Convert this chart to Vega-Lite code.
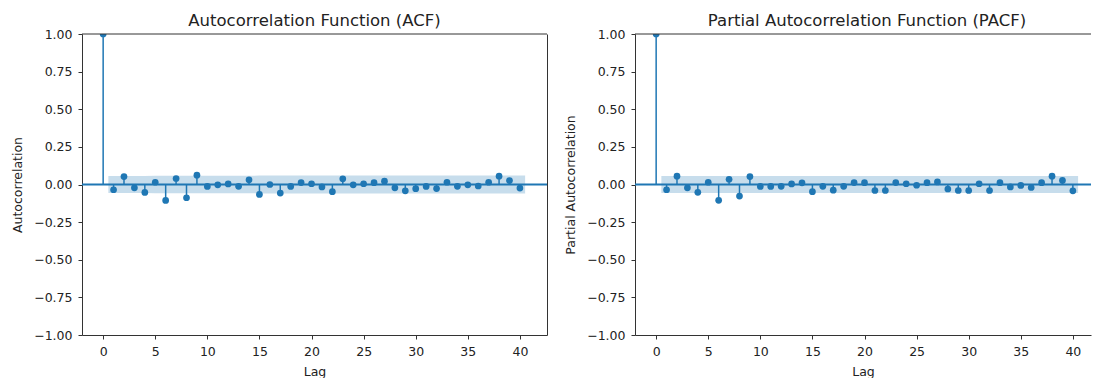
{
  "$schema": "https://vega.github.io/schema/vega-lite/v6.json",
  "padding": {"left": 11, "top": 12, "right": 0, "bottom": 0},
  "bounds": "flush",
  "spacing": 88,
  "datasets": {
    "acf": [
      {"lag": 0, "value": 1.0}, {"lag": 1, "value": -0.035}, {"lag": 2, "value": 0.053}, {"lag": 3, "value": -0.022},
      {"lag": 4, "value": -0.053}, {"lag": 5, "value": 0.015}, {"lag": 6, "value": -0.106}, {"lag": 7, "value": 0.040},
      {"lag": 8, "value": -0.088}, {"lag": 9, "value": 0.062}, {"lag": 10, "value": -0.013}, {"lag": 11, "value": -0.002},
      {"lag": 12, "value": 0.004}, {"lag": 13, "value": -0.012}, {"lag": 14, "value": 0.031}, {"lag": 15, "value": -0.066},
      {"lag": 16, "value": 0.000}, {"lag": 17, "value": -0.057}, {"lag": 18, "value": -0.013}, {"lag": 19, "value": 0.013},
      {"lag": 20, "value": 0.005}, {"lag": 21, "value": -0.016}, {"lag": 22, "value": -0.048}, {"lag": 23, "value": 0.038},
      {"lag": 24, "value": -0.002}, {"lag": 25, "value": 0.005}, {"lag": 26, "value": 0.012}, {"lag": 27, "value": 0.022},
      {"lag": 28, "value": -0.022}, {"lag": 29, "value": -0.042}, {"lag": 30, "value": -0.028}, {"lag": 31, "value": -0.013},
      {"lag": 32, "value": -0.027}, {"lag": 33, "value": 0.015}, {"lag": 34, "value": -0.012}, {"lag": 35, "value": -0.002},
      {"lag": 36, "value": -0.010}, {"lag": 37, "value": 0.015}, {"lag": 38, "value": 0.055}, {"lag": 39, "value": 0.026},
      {"lag": 40, "value": -0.024}
    ],
    "acfband": [
      {"lag": 0.5, "lo": -0.057, "hi": 0.057}, {"lag": 2, "lo": -0.0571, "hi": 0.0571}, {"lag": 3, "lo": -0.0573, "hi": 0.0573},
      {"lag": 4, "lo": -0.0573, "hi": 0.0573}, {"lag": 5, "lo": -0.0575, "hi": 0.0575}, {"lag": 6, "lo": -0.0575, "hi": 0.0575},
      {"lag": 7, "lo": -0.0581, "hi": 0.0581}, {"lag": 8, "lo": -0.0582, "hi": 0.0582}, {"lag": 9, "lo": -0.0586, "hi": 0.0586},
      {"lag": 10, "lo": -0.0588, "hi": 0.0588}, {"lag": 11, "lo": -0.0588, "hi": 0.0588}, {"lag": 12, "lo": -0.0588, "hi": 0.0588},
      {"lag": 13, "lo": -0.0588, "hi": 0.0588}, {"lag": 14, "lo": -0.0589, "hi": 0.0589}, {"lag": 15, "lo": -0.059, "hi": 0.059},
      {"lag": 16, "lo": -0.0592, "hi": 0.0592}, {"lag": 17, "lo": -0.0592, "hi": 0.0592}, {"lag": 18, "lo": -0.0594, "hi": 0.0594},
      {"lag": 19, "lo": -0.0594, "hi": 0.0594}, {"lag": 20, "lo": -0.0594, "hi": 0.0594}, {"lag": 21, "lo": -0.0594, "hi": 0.0594},
      {"lag": 22, "lo": -0.0595, "hi": 0.0595}, {"lag": 23, "lo": -0.0596, "hi": 0.0596}, {"lag": 24, "lo": -0.0597, "hi": 0.0597},
      {"lag": 25, "lo": -0.0597, "hi": 0.0597}, {"lag": 26, "lo": -0.0597, "hi": 0.0597}, {"lag": 27, "lo": -0.0597, "hi": 0.0597},
      {"lag": 28, "lo": -0.0598, "hi": 0.0598}, {"lag": 29, "lo": -0.0598, "hi": 0.0598}, {"lag": 30, "lo": -0.0599, "hi": 0.0599},
      {"lag": 31, "lo": -0.0599, "hi": 0.0599}, {"lag": 32, "lo": -0.0599, "hi": 0.0599}, {"lag": 33, "lo": -0.0599, "hi": 0.0599},
      {"lag": 34, "lo": -0.06, "hi": 0.06}, {"lag": 35, "lo": -0.06, "hi": 0.06}, {"lag": 36, "lo": -0.06, "hi": 0.06},
      {"lag": 37, "lo": -0.06, "hi": 0.06}, {"lag": 38, "lo": -0.06, "hi": 0.06}, {"lag": 39, "lo": -0.0601, "hi": 0.0601},
      {"lag": 40.5, "lo": -0.0601, "hi": 0.0601}
    ],
    "pacf": [
      {"lag": 0, "value": 1.0}, {"lag": 1, "value": -0.035}, {"lag": 2, "value": 0.055}, {"lag": 3, "value": -0.022},
      {"lag": 4, "value": -0.052}, {"lag": 5, "value": 0.015}, {"lag": 6, "value": -0.105}, {"lag": 7, "value": 0.035},
      {"lag": 8, "value": -0.077}, {"lag": 9, "value": 0.053}, {"lag": 10, "value": -0.013}, {"lag": 11, "value": -0.013},
      {"lag": 12, "value": -0.012}, {"lag": 13, "value": 0.004}, {"lag": 14, "value": 0.011}, {"lag": 15, "value": -0.048},
      {"lag": 16, "value": -0.012}, {"lag": 17, "value": -0.038}, {"lag": 18, "value": -0.012}, {"lag": 19, "value": 0.013},
      {"lag": 20, "value": 0.012}, {"lag": 21, "value": -0.040}, {"lag": 22, "value": -0.040}, {"lag": 23, "value": 0.013},
      {"lag": 24, "value": 0.005}, {"lag": 25, "value": -0.005}, {"lag": 26, "value": 0.012}, {"lag": 27, "value": 0.017},
      {"lag": 28, "value": -0.030}, {"lag": 29, "value": -0.040}, {"lag": 30, "value": -0.040}, {"lag": 31, "value": 0.005},
      {"lag": 32, "value": -0.040}, {"lag": 33, "value": 0.012}, {"lag": 34, "value": -0.016}, {"lag": 35, "value": -0.006},
      {"lag": 36, "value": -0.020}, {"lag": 37, "value": 0.012}, {"lag": 38, "value": 0.055}, {"lag": 39, "value": 0.027},
      {"lag": 40, "value": -0.042}
    ],
    "pacfband": [
      {"lag": 0.5, "lo": -0.057, "hi": 0.057}, {"lag": 40.5, "lo": -0.057, "hi": 0.057}
    ],
    "zero": [{"v": 0}],
    "frame": [{"v": 1}]
  },
  "hconcat": [
    {
      "width": 465,
      "height": 301,
      "title": {"text": "Autocorrelation Function (ACF)", "offset": -17, "baseline": "bottom", "frame": "group", "anchor": "middle"},
      "resolve": {"axis": {"x": "independent", "y": "independent"}},
      "layer": [
        {
          "data": {"name": "acf"},
          "mark": {"type": "rule", "color": "#1f77b4", "strokeWidth": 1.5},
          "encoding": {
            "x": {"field": "lag", "type": "quantitative", "scale": {"domain": [-2.03, 42.6], "nice": false, "zero": false},
                  "axis": {"orient": "bottom", "values": [0, 5, 10, 15, 20, 25, 30, 35, 40], "title": "Lag", "titlePadding": 8}},
            "y": {"field": "value", "type": "quantitative", "scale": {"domain": [-1, 1], "nice": false},
                  "axis": {"orient": "left", "values": [-1, -0.75, -0.5, -0.25, 0, 0.25, 0.5, 0.75, 1], "format": ".2f", "title": "Autocorrelation", "titlePadding": 9}},
            "y2": {"datum": 0}
          }
        },
        {
          "data": {"name": "acf"},
          "mark": {"type": "circle", "color": "#1f77b4", "opacity": 1, "size": 45, "clip": true},
          "encoding": {
            "x": {"field": "lag", "type": "quantitative", "axis": null},
            "y": {"field": "value", "type": "quantitative", "axis": {"orient": "right", "labels": false, "ticks": false, "title": null}}
          }
        },
        {
          "data": {"name": "frame"},
          "mark": {"type": "rule", "color": "#333", "strokeWidth": 1},
          "encoding": {"y": {"field": "v", "type": "quantitative", "axis": null}}
        },
        {
          "data": {"name": "zero"},
          "mark": {"type": "rule", "color": "#1f77b4", "strokeWidth": 1.8},
          "encoding": {"y": {"field": "v", "type": "quantitative", "axis": null}}
        },
        {
          "data": {"name": "acfband"},
          "mark": {"type": "area", "color": "#1f77b4", "opacity": 0.25},
          "encoding": {
            "x": {"field": "lag", "type": "quantitative", "axis": null},
            "y": {"field": "lo", "type": "quantitative", "axis": null},
            "y2": {"field": "hi"}
          }
        }
      ]
    },
    {
      "width": 456,
      "height": 301,
      "title": {"text": "Partial Autocorrelation Function (PACF)", "offset": -17, "baseline": "bottom", "frame": "group", "anchor": "middle", "dx": 4},
      "resolve": {"axis": {"x": "independent", "y": "independent"}},
      "layer": [
        {
          "data": {"name": "pacf"},
          "mark": {"type": "rule", "color": "#1f77b4", "strokeWidth": 1.5},
          "encoding": {
            "x": {"field": "lag", "type": "quantitative", "scale": {"domain": [-2.03, 41.74], "nice": false, "zero": false},
                  "axis": {"orient": "bottom", "values": [0, 5, 10, 15, 20, 25, 30, 35, 40], "title": "Lag", "titlePadding": 8}},
            "y": {"field": "value", "type": "quantitative", "scale": {"domain": [-1, 1], "nice": false},
                  "axis": {"orient": "left", "values": [-1, -0.75, -0.5, -0.25, 0, 0.25, 0.5, 0.75, 1], "format": ".2f", "title": "Partial Autocorrelation", "titlePadding": 9}},
            "y2": {"datum": 0}
          }
        },
        {
          "data": {"name": "pacf"},
          "mark": {"type": "circle", "color": "#1f77b4", "opacity": 1, "size": 45, "clip": true},
          "encoding": {
            "x": {"field": "lag", "type": "quantitative", "axis": null},
            "y": {"field": "value", "type": "quantitative", "axis": null}
          }
        },
        {
          "data": {"name": "frame"},
          "mark": {"type": "rule", "color": "#333", "strokeWidth": 1},
          "encoding": {"y": {"field": "v", "type": "quantitative", "axis": null}}
        },
        {
          "data": {"name": "zero"},
          "mark": {"type": "rule", "color": "#1f77b4", "strokeWidth": 1.8},
          "encoding": {"y": {"field": "v", "type": "quantitative", "axis": null}}
        },
        {
          "data": {"name": "pacfband"},
          "mark": {"type": "area", "color": "#1f77b4", "opacity": 0.25},
          "encoding": {
            "x": {"field": "lag", "type": "quantitative", "axis": null},
            "y": {"field": "lo", "type": "quantitative", "axis": null},
            "y2": {"field": "hi"}
          }
        }
      ]
    }
  ],
  "config": {
    "view": {"stroke": null},
    "font": "DejaVu Sans",
    "axis": {
      "grid": false, "domainColor": "#333", "tickColor": "#333", "labelColor": "#222", "titleColor": "#222",
      "labelFontSize": 12.5, "titleFontSize": 12.5, "titleFontWeight": "normal", "tickSize": 4, "labelPadding": 6,
      "domainWidth": 1, "tickWidth": 1, "labelFont": "DejaVu Sans", "titleFont": "DejaVu Sans"
    },
    "title": {"fontSize": 16.5, "fontWeight": "normal", "color": "#222", "font": "DejaVu Sans"}
  }
}
